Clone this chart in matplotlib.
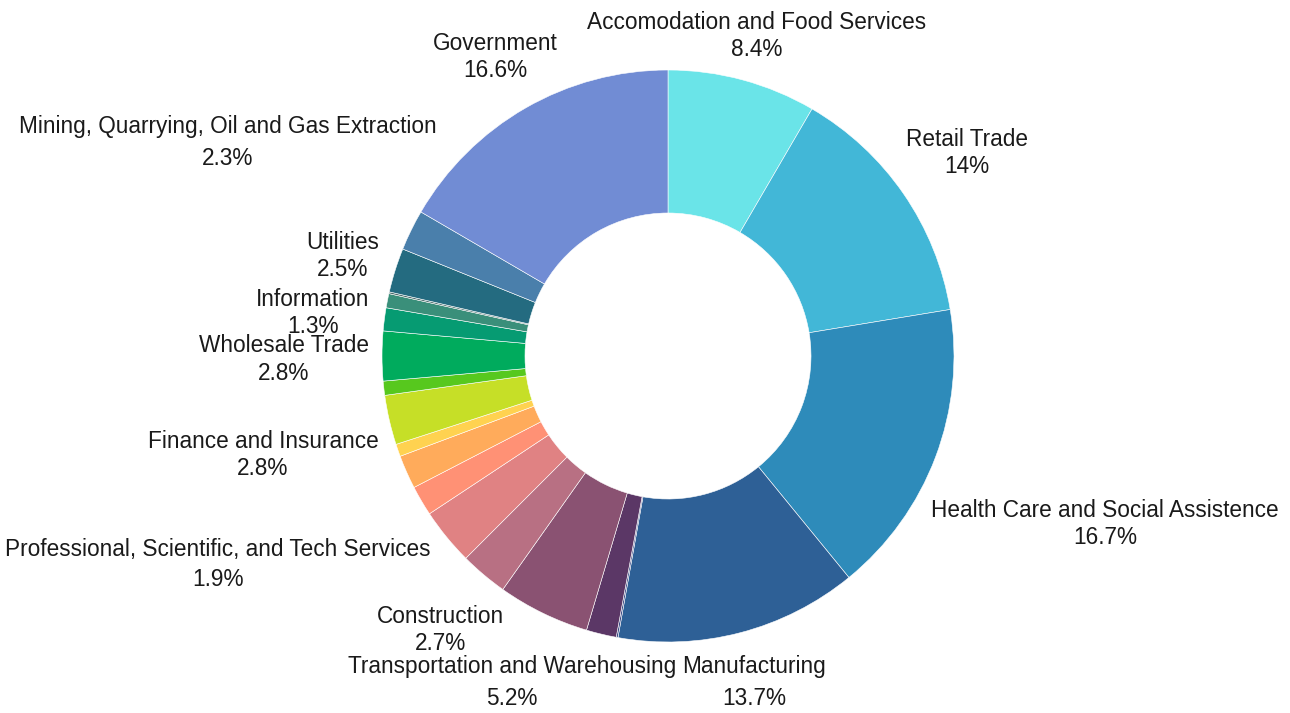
import matplotlib.pyplot as plt
import numpy as np

plt.rcParams['font.family'] = ['Liberation Sans', 'DejaVu Sans']

# slices, clockwise from 12 o'clock
sectors = [
    'Accomodation and Food Services', 'Retail Trade', 'Health Care and Social Assistence',
    'Manufacturing', 'Unclassified', 'Arts, Entertainment, and Recreation',
    'Transportation and Warehousing', 'Construction', 'Administrative and Support',
    'Other Services', 'Professional, Scientific, and Tech Services', 'Management of Companies',
    'Finance and Insurance', 'Real Estate', 'Wholesale Trade', 'Information',
    'Educational Services', 'Agriculture, Forestry, Fishing', 'Utilities',
    'Mining, Quarrying, Oil and Gas Extraction', 'Government',
]
shares = [8.4, 14, 16.7, 13.7, 0.1, 1.7, 5.2, 2.7, 3.2, 1.7, 1.9, 0.7,
          2.8, 0.8, 2.8, 1.3, 0.8, 0.1, 2.5, 2.3, 16.6]
colors = ['#6ae4e8', '#42b7d7', '#2e8bba', '#2e6096', '#3b4a86', '#5b3766',
          '#8a5272', '#b87083', '#e08283', '#ff9175', '#ffab5b', '#ffd250',
          '#c6df27', '#57c81e', '#00ab5d', '#069b72', '#3a8f7a', '#4a6a6a',
          '#246b80', '#4a7fab', '#718cd4']

# label placement (pixel centres of name line and percent line); unlisted slices get no label
label_pos = {
    'Accomodation and Food Services': (757, 21, 48),
    'Retail Trade': (967, 138, 165),
    'Health Care and Social Assistence': (1105, 509, 536),
    'Manufacturing': (754, 665, 697),
    'Transportation and Warehousing': (512, 665, 697),
    'Construction': (440, 615, 642),
    'Professional, Scientific, and Tech Services': (218, 548, 578),
    'Finance and Insurance': (263, 440, 467),
    'Wholesale Trade': (284, 344, 372),
    'Information': (313, 298, 325),
    'Utilities': (343, 241, 268),
    'Mining, Quarrying, Oil and Gas Extraction': (228, 125, 157),
    'Government': (495, 42, 69),
}

W, H = 1290, 713
cx, cy, R = 668, 356, 286

fig = plt.figure(figsize=(W / 100, H / 100), dpi=100)
ax = fig.add_axes([0, 0, 1, 1])
ax.pie(shares, colors=colors, startangle=90, counterclock=False, radius=1,
       wedgeprops=dict(width=0.5, edgecolor='white', linewidth=0.4))
ax.set_xlim(-cx / R, (W - cx) / R)
ax.set_ylim(-(H - cy) / R, cy / R)
ax.set_aspect('equal')
ax.axis('off')


def px(x, y):
    # pixel position -> data units, small downward nudge for glyph centring
    return (x - cx) / R, (cy - y - 1.5) / R


for name, val in zip(sectors, shares):
    if name not in label_pos:
        continue
    x, y1, y2 = label_pos[name]
    ax.text(*px(x, y1), name, ha='center', va='center', fontsize=16.3, color='#1a1a1a')
    ax.text(*px(x, y2), f'{val:g}%', ha='center', va='center', fontsize=16.3, color='#1a1a1a')

fig.savefig('out.png', dpi=100)
